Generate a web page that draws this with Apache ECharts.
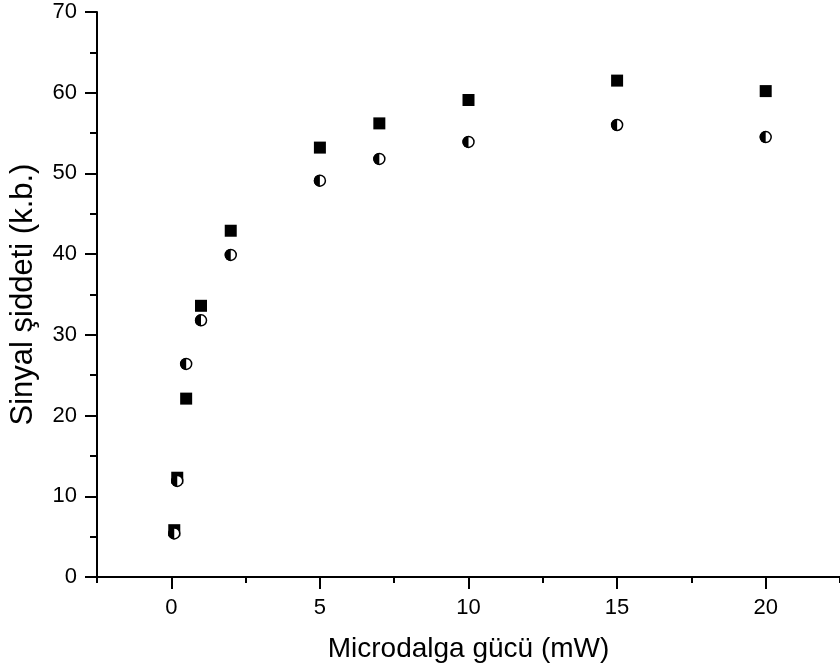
<!DOCTYPE html>
<html>
<head>
<meta charset="utf-8">
<script src="https://cdn.jsdelivr.net/npm/echarts@6/dist/echarts.min.js"></script>
<style>
html,body{margin:0;padding:0;background:#fff;}
#chart{width:840px;height:672px;}
</style>
</head>
<body>
<div id="chart"></div>
<script>
// Data
var powerX = [0.1, 0.2, 0.5, 1, 2, 5, 7, 10, 15, 20];
var seriesSquare = [5.8, 12.3, 22.1, 33.6, 42.9, 53.2, 56.2, 59.1, 61.5, 60.2];
var seriesHalfCircle = [5.4, 11.9, 26.4, 31.8, 39.9, 49.1, 51.8, 53.9, 56.0, 54.5];
var xMajorTicks = [0, 5, 10, 15, 20];
var xMinorTicks = [-2.5, 2.5, 7.5, 12.5, 17.5, 22.5];
var xTitle = 'Microdalga gücü (mW)';
var yTitle = 'Sinyal şiddeti (k.b.)';

function pairs(xs, ys) {
  return xs.map(function (x, i) { return [x, ys[i]]; });
}

var FONT = '"Liberation Sans", Arial, sans-serif';
var halfDisk = 'path://M1,0 A1,1 0 0,0 1,2 Z';

var chart = echarts.init(document.getElementById('chart'), null, {renderer: 'canvas'});
chart.setOption({
  backgroundColor: '#fff',
  animation: false,
  grid: {left: 97, top: 12, width: 750, height: 565, containLabel: false},
  xAxis: [{
    type: 'value', min: -2.5, max: 22.5,
    position: 'bottom',
    splitLine: {show: false},
    axisLine: {show: true, onZero: false, lineStyle: {color: '#000', width: 2}},
    axisTick: {show: true, inside: false, length: 12, customValues: xMajorTicks, lineStyle: {color: '#000', width: 2}},
    axisLabel: {show: true, customValues: xMajorTicks, margin: 20, color: '#000', fontSize: 22, fontFamily: FONT},
    name: xTitle, nameLocation: 'middle', nameGap: 58,
    nameTextStyle: {color: '#000', fontSize: 28, fontFamily: FONT}
  }, {
    type: 'value', min: -2.5, max: 22.5,
    position: 'bottom',
    splitLine: {show: false},
    axisLine: {show: false, onZero: false},
    axisTick: {show: true, inside: false, length: 6, customValues: xMinorTicks, lineStyle: {color: '#000', width: 2}},
    axisLabel: {show: false}
  }],
  yAxis: {
    type: 'value', min: 0, max: 70, interval: 10,
    splitLine: {show: false},
    axisLine: {show: true, onZero: false, lineStyle: {color: '#000', width: 2}},
    axisTick: {show: true, inside: false, length: 12, lineStyle: {color: '#000', width: 2}},
    minorTick: {show: true, splitNumber: 2, length: 7, lineStyle: {color: '#000', width: 2}},
    axisLabel: {margin: 20, color: '#000', fontSize: 22, fontFamily: FONT},
    name: yTitle, nameLocation: 'middle', nameGap: 58, nameRotate: 90,
    nameTextStyle: {color: '#000', fontSize: 31, fontFamily: FONT}
  },
  series: [{
    type: 'scatter', xAxisIndex: 0,
    data: pairs(powerX, seriesSquare),
    symbol: 'rect', symbolSize: 12,
    itemStyle: {color: '#000', opacity: 1},
    z: 2
  }, {
    type: 'scatter', xAxisIndex: 0,
    data: pairs(powerX, seriesHalfCircle),
    symbol: 'circle', symbolSize: 11,
    itemStyle: {color: '#fff', borderColor: '#000', borderWidth: 1.5, opacity: 1},
    z: 3
  }, {
    type: 'scatter', xAxisIndex: 0,
    data: pairs(powerX, seriesHalfCircle),
    symbol: halfDisk, symbolSize: [6, 12], symbolOffset: [-3, 0], symbolKeepAspect: false,
    itemStyle: {color: '#000', opacity: 1},
    z: 4
  }]
});
</script>
</body>
</html>
